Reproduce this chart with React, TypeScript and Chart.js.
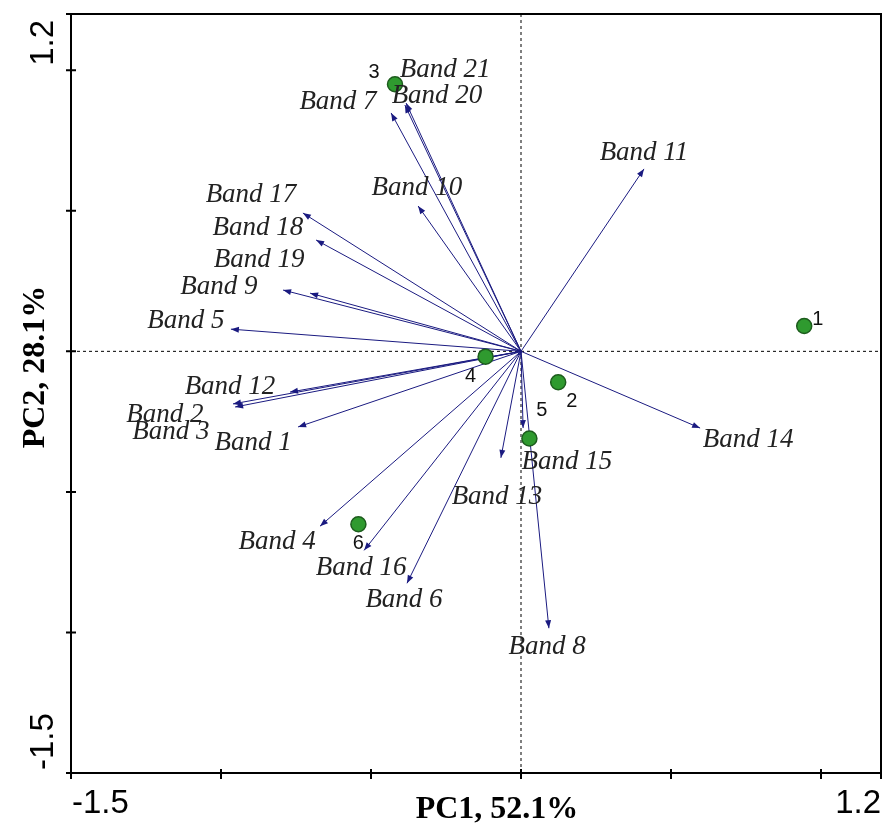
import React, { useEffect, useRef } from "react";
import { Chart, registerables } from "chart.js";
Chart.register(...registerables);

// ---- Data ----
const bandNames = [
  "Band 1", "Band 2", "Band 3", "Band 4", "Band 5", "Band 6", "Band 7",
  "Band 8", "Band 9", "Band 10", "Band 11", "Band 12", "Band 13", "Band 14",
  "Band 15", "Band 16", "Band 17", "Band 18", "Band 19", "Band 20", "Band 21",
];
const bandX = [-0.743, -0.96, -0.953, -0.67, -0.967, -0.38, -0.433, 0.093, -0.793, -0.343, 0.41, -0.77, -0.067, 0.597, 0.007, -0.523, -0.727, -0.683, -0.703, -0.387, -0.383];
const bandY = [-0.269, -0.187, -0.198, -0.622, 0.079, -0.825, 0.848, -0.985, 0.218, 0.517, 0.649, -0.145, -0.379, -0.273, -0.273, -0.708, 0.492, 0.396, 0.207, 0.876, 0.883];
const bandLabelX = [-0.893, -1.187, -1.167, -0.813, -1.117, -0.39, -0.61, 0.087, -1.007, -0.347, 0.41, -0.97, -0.08, 0.757, 0.153, -0.533, -0.9, -0.877, -0.873, -0.28, -0.253];
const bandLabelY = [-0.326, -0.227, -0.287, -0.679, 0.108, -0.885, 0.887, -1.052, 0.229, 0.581, 0.706, -0.127, -0.519, -0.316, -0.394, -0.771, 0.556, 0.439, 0.325, 0.909, 1.001];

const sampleNames = ["1", "2", "3", "4", "5", "6"];
const sampleX = [0.944, 0.124, -0.42, -0.118, 0.028, -0.542];
const sampleY = [0.09, -0.11, 0.95, -0.019, -0.31, -0.615];
const sampleLabelX = [0.989, 0.169, -0.49, -0.168, 0.069, -0.542];
const sampleLabelY = [0.114, -0.179, 0.993, -0.09, -0.209, -0.683];

const xMin = -1.5, xMax = 1.2, yMin = -1.5, yMax = 1.2;
const xTicks = [-1.5, -1.0, -0.5, 0, 0.5, 1.0, 1.2];
const yTicks = [-1.5, -1.0, -0.5, 0, 0.5, 1.0, 1.2];
const xTickLabels = ["-1.5", "1.2"];
const yTickLabels = ["-1.5", "1.2"];
const xTitle = "PC1, 52.1%";
const yTitle = "PC2, 28.1%";

const ARROW = "#1a1a80";

const biplotPlugin = {
  id: "biplot",
  afterDatasetsDraw(chart: any) {
    const ctx = chart.ctx;
    const xs = chart.scales.x, ys = chart.scales.y;
    const ox = xs.getPixelForValue(0), oy = ys.getPixelForValue(0);
    ctx.save();
    ctx.fillStyle = ARROW;
    for (let i = 0; i < bandX.length; i++) {
      const tx = xs.getPixelForValue(bandX[i]);
      const ty = ys.getPixelForValue(bandY[i]);
      const a = Math.atan2(ty - oy, tx - ox);
      const L = 8, W = 3;
      ctx.beginPath();
      ctx.moveTo(tx, ty);
      ctx.lineTo(tx - L * Math.cos(a) + W * Math.sin(a), ty - L * Math.sin(a) - W * Math.cos(a));
      ctx.lineTo(tx - L * Math.cos(a) - W * Math.sin(a), ty - L * Math.sin(a) + W * Math.cos(a));
      ctx.closePath();
      ctx.fill();
    }
    ctx.restore();
  },
  afterDraw(chart: any) {
    const ctx = chart.ctx;
    const xs = chart.scales.x, ys = chart.scales.y;
    const area = chart.chartArea;
    ctx.save();
    // band labels
    ctx.fillStyle = "#222";
    ctx.font = "italic 27px 'Liberation Serif', 'Times New Roman', serif";
    ctx.textAlign = "center";
    ctx.textBaseline = "middle";
    for (let i = 0; i < bandNames.length; i++) {
      ctx.fillText(bandNames[i], xs.getPixelForValue(bandLabelX[i]), ys.getPixelForValue(bandLabelY[i]));
    }
    // sample labels
    ctx.fillStyle = "#111";
    ctx.font = "20px 'Liberation Sans', Arial, sans-serif";
    for (let i = 0; i < sampleNames.length; i++) {
      ctx.fillText(sampleNames[i], xs.getPixelForValue(sampleLabelX[i]), ys.getPixelForValue(sampleLabelY[i]));
    }
    // frame
    ctx.strokeStyle = "#000";
    ctx.lineWidth = 2;
    ctx.strokeRect(area.left, area.top, area.right - area.left, area.bottom - area.top);
    // ticks
    ctx.beginPath();
    for (const t of xTicks) {
      const px = xs.getPixelForValue(t);
      ctx.moveTo(px, area.bottom - 4);
      ctx.lineTo(px, area.bottom + 6);
    }
    for (const t of yTicks) {
      const py = ys.getPixelForValue(t);
      ctx.moveTo(area.left - 5, py);
      ctx.lineTo(area.left + 5, py);
    }
    ctx.stroke();
    // tick labels
    ctx.fillStyle = "#000";
    ctx.font = "33px 'Liberation Sans', Arial, sans-serif";
    ctx.textBaseline = "alphabetic";
    ctx.textAlign = "left";
    ctx.fillText(xTickLabels[0], xs.getPixelForValue(xMin) + 1, area.bottom + 40);
    ctx.textAlign = "right";
    ctx.fillText(xTickLabels[1], xs.getPixelForValue(xMax), area.bottom + 40);
    ctx.save();
    ctx.translate(area.left - 18, ys.getPixelForValue(yMin) - 3);
    ctx.rotate(-Math.PI / 2);
    ctx.textAlign = "left";
    ctx.fillText(yTickLabels[0], 0, 0);
    ctx.restore();
    ctx.save();
    ctx.translate(area.left - 18, ys.getPixelForValue(yMax) + 6);
    ctx.rotate(-Math.PI / 2);
    ctx.textAlign = "right";
    ctx.fillText(yTickLabels[1], 0, 0);
    ctx.restore();
    // titles
    ctx.font = "bold 32px 'Liberation Serif', 'Times New Roman', serif";
    ctx.textAlign = "center";
    ctx.fillText(xTitle, 497, 818);
    ctx.save();
    ctx.translate(44, 367);
    ctx.rotate(-Math.PI / 2);
    ctx.fillText(yTitle, 0, 0);
    ctx.restore();
    ctx.restore();
  },
};

export default function App() {
  const ref = useRef<HTMLCanvasElement>(null);
  useEffect(() => {
    if (!ref.current) return;
    const datasets: any[] = [];
    datasets.push({
      label: "samples",
      data: sampleX.map((x, i) => ({ x, y: sampleY[i] })),
      pointRadius: 7.5,
      pointBackgroundColor: "#2f9a2f",
      pointBorderColor: "#1d5c1d",
      pointBorderWidth: 1.5,
      showLine: false,
    });
    for (let i = 0; i < bandNames.length; i++) {
      datasets.push({
        label: bandNames[i],
        data: [{ x: 0, y: 0 }, { x: bandX[i], y: bandY[i] }],
        showLine: true,
        pointRadius: 0,
        borderColor: ARROW,
        borderWidth: 1,
        fill: false,
      });
    }
    datasets.push({
      label: "zero-x",
      data: [{ x: 0, y: yMin }, { x: 0, y: yMax }],
      showLine: true,
      pointRadius: 0,
      borderColor: "#000",
      borderWidth: 1,
      borderDash: [3, 3],
    });
    datasets.push({
      label: "zero-y",
      data: [{ x: xMin, y: 0 }, { x: xMax, y: 0 }],
      showLine: true,
      pointRadius: 0,
      borderColor: "#000",
      borderWidth: 1,
      borderDash: [3, 3],
    });
    const chart = new Chart(ref.current, {
      type: "scatter",
      data: { datasets },
      options: {
        animation: false,
        responsive: true,
        maintainAspectRatio: false,
        events: [],
        layout: { autoPadding: false, padding: { top: 14, right: 3, left: 0, bottom: 0 } },
        plugins: { legend: { display: false }, tooltip: { enabled: false } },
        scales: {
          x: {
            type: "linear",
            min: xMin,
            max: xMax,
            grid: { display: false },
            border: { display: false },
            ticks: { display: false },
            afterFit: (s: any) => { s.height = 54; },
          },
          y: {
            type: "linear",
            min: yMin,
            max: yMax,
            grid: { display: false },
            border: { display: false },
            ticks: { display: false },
            afterFit: (s: any) => { s.width = 71; },
          },
        },
      },
      plugins: [biplotPlugin],
    } as any);
    return () => chart.destroy();
  }, []);
  return (
    <div style={{ position: "fixed", left: 0, top: 0, width: 884, height: 827, background: "#fff" }}>
      <canvas ref={ref} />
    </div>
  );
}
